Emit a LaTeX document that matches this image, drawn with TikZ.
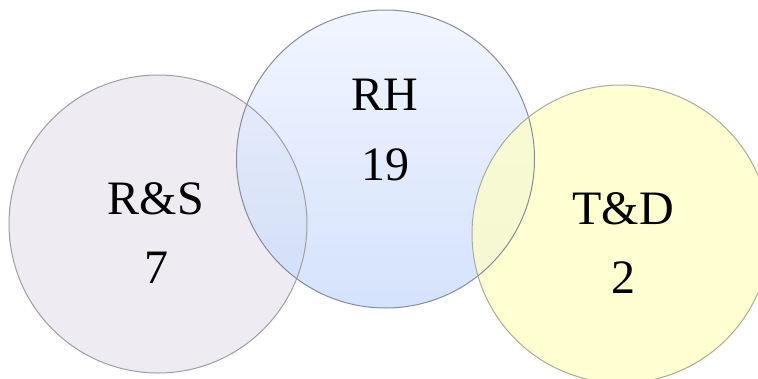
\documentclass[tikz,border=0pt]{standalone}
\usepackage{fontspec}
\setmainfont{Liberation Serif}
\begin{document}
\begin{tikzpicture}[x=1pt,y=-1pt,
  venn/.style={circle, minimum size=298pt, inner sep=0pt},
  rim/.style={line width=1pt},
  lab/.style={anchor=base, font=\fontsize{48}{48}\selectfont, text=black, inner sep=0pt}]
\useasboundingbox (0,0) rectangle (758,378);
\fill[white] (0,0) rectangle (758,378);
\node[venn, fill={rgb,255:red,236;green,233;blue,240}, fill opacity=0.85] (rs) at (158,224) {};
\node[venn, fill opacity=0.72, top color={rgb,255:red,236;green,242;blue,255}, bottom color={rgb,255:red,198;green,216;blue,252}] (rh) at (385.5,159) {};
\node[venn, fill={rgb,255:red,255;green,255;blue,196}, fill opacity=0.75] (td) at (621,234) {};
\draw[rim, draw={rgb,255:red,160;green,158;blue,164}] (rs.center) circle[radius=149pt];
\draw[rim, draw={rgb,255:red,135;green,140;blue,152}] (rh.center) circle[radius=149pt];
\draw[rim, draw={rgb,255:red,172;green,172;blue,150}] (td.center) circle[radius=149pt];
\node[lab] (rsname) at (156,214) {R\&S};
\node[lab] (rsnum) at (156,283) {7};
\node[lab] (rhname) at (385,110) {RH};
\node[lab] (rhnum) at (385,180) {19};
\node[lab] (tdname) at (623,224) {T\&D};
\node[lab] (tdnum) at (623,293) {2};
\end{tikzpicture}
\end{document}
